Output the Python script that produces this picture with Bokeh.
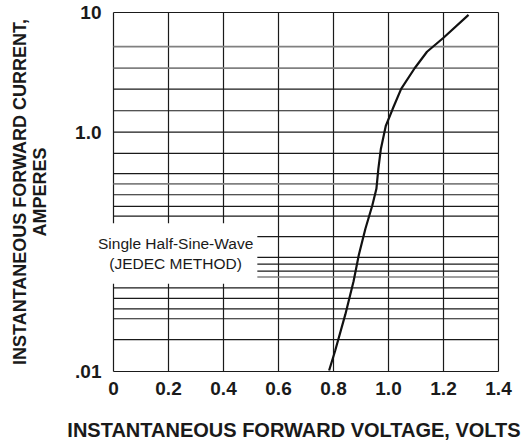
from bokeh.plotting import figure
from bokeh.models import FixedTicker, Label
from bokeh.embed import file_html
from bokeh.resources import INLINE

# ---- data ----
vf = [0.784, 0.806, 0.843, 0.873, 0.892, 0.916, 0.941, 0.956, 0.963, 0.972,
      0.990, 1.015, 1.046, 1.095, 1.140, 1.200, 1.291]
ifw = [0.0102, 0.0149, 0.030, 0.0567, 0.0942, 0.156, 0.244, 0.336, 0.491, 0.719,
       1.125, 1.56, 2.30, 3.42, 4.70, 6.15, 9.55]

x_ticks = [0, 0.2, 0.4, 0.6, 0.8, 1.0, 1.2, 1.4]
x_labels = ["0", "0.2", "0.4", "0.6", "0.8", "1.0", "1.2", "1.4"]
y_ticks = [0.01, 1.0, 10.0]
y_labels = [".01", "1.0", "10"]
y_grid_dark = [10.0, 2.29, 1.51, 1.0, 0.666, 0.450, 0.300, 0.240, 0.199, 0.134,
               0.090, 0.0789, 0.069, 0.050, 0.0408, 0.0334, 0.0276, 0.0185, 0.01]
y_grid_gray = [5.18, 3.43, 0.370, 0.0616]

note_text = "Single Half-Sine-Wave\n(JEDEC METHOD)"
note_x, note_y = 0.226, 0.097
x_title = "INSTANTANEOUS FORWARD VOLTAGE, VOLTS"
y_title = "INSTANTANEOUS FORWARD CURRENT,\nAMPERES"

FONT = "Liberation Sans"
INK = "#1a1a1a"

p = figure(width=530, height=446, x_range=(-0.0909, 1.4036),
           y_range=(0.00981, 10.19), y_axis_type="log",
           output_backend="svg", toolbar_location=None,
           min_border_left=88, min_border_right=31, min_border_top=11,
           min_border_bottom=74)
p.outline_line_color = None
p.xgrid.visible = False
p.ygrid.visible = False

# grid drawn as segments so it starts at x = 0
n = len(x_ticks)
p.segment(x0=x_ticks, y0=[y_ticks[0]] * n, x1=x_ticks, y1=[y_ticks[-1]] * n,
          line_color=INK, line_width=1.2)
m = len(y_grid_dark)
p.segment(x0=[x_ticks[0]] * m, y0=y_grid_dark, x1=[x_ticks[-1]] * m, y1=y_grid_dark,
          line_color=INK, line_width=1.2)
k = len(y_grid_gray)
p.segment(x0=[x_ticks[0]] * k, y0=y_grid_gray, x1=[x_ticks[-1]] * k, y1=y_grid_gray,
          line_color="#808080", line_width=1.6)

# axes
for ax in (p.xaxis, p.yaxis):
    ax.axis_line_color = None
    ax.major_tick_out = 0
    ax.major_tick_in = 0
    ax.minor_tick_out = 0
    ax.minor_tick_in = 0
    ax.major_label_text_font = FONT
    ax.major_label_text_font_style = "bold"
    ax.major_label_text_font_size = "19px"
    ax.major_label_text_color = INK
    ax.axis_label_text_font = FONT
    ax.axis_label_text_font_style = "bold"
    ax.axis_label_text_color = INK
    ax.axis_label_text_line_height = 1.0

p.xaxis.ticker = FixedTicker(ticks=x_ticks)
p.xaxis.major_label_overrides = {t: l for t, l in zip(x_ticks, x_labels)}
p.xaxis.major_label_standoff = 9
p.xaxis.axis_label = x_title
p.xaxis.axis_label_text_font_size = "20px"
p.xaxis.axis_label_standoff = 21

p.yaxis.ticker = FixedTicker(ticks=y_ticks)
p.yaxis.major_label_overrides = {t: l for t, l in zip(y_ticks, y_labels)}
p.yaxis.major_label_standoff = -13
p.yaxis.axis_label = y_title
p.yaxis.axis_label_text_font_size = "18px"
p.yaxis.axis_label_standoff = 22

# curve
p.line(vf, ifw, line_color="#111111", line_width=2.2)

# note with white box
note = Label(x=note_x, y=note_y, text=note_text, text_align="center",
             text_baseline="middle", text_font=FONT, text_font_size="15.5px",
             text_line_height=1.15, text_color=INK,
             background_fill_color="white", background_fill_alpha=1.0,
             border_line_color=None, padding=(4, 12))
p.add_layout(note)

open("out.html", "w").write(file_html(p, INLINE))
